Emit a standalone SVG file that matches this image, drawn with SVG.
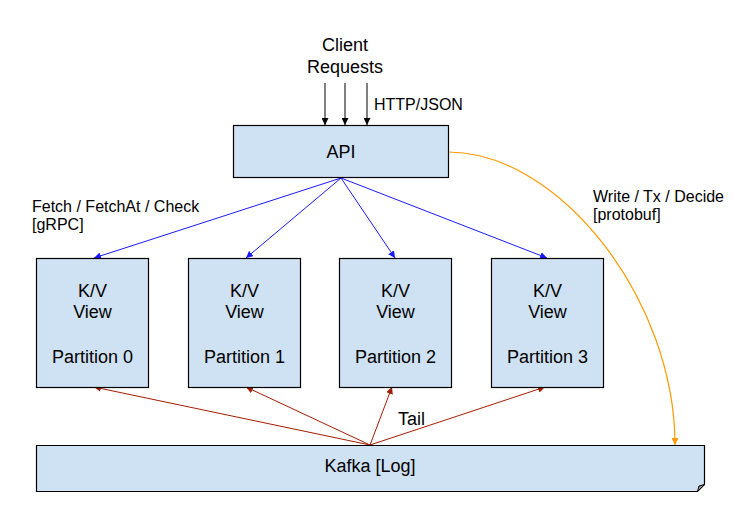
<svg xmlns="http://www.w3.org/2000/svg" width="734" height="512" viewBox="0 0 734 512">
<style>
.box{fill:#cfe2f3;stroke:#000;stroke-width:1.2}
text{font-family:"Liberation Sans",Arial,sans-serif;fill:#000}
.t18{font-size:18px}
.t16{font-size:16px}
.c{text-anchor:middle}
.blk{stroke:#000;stroke-width:1;fill:none}
.blu{stroke:#1a1aff;stroke-width:1;fill:none}
.red{stroke:#a61c00;stroke-width:1;fill:none}
.org{stroke:#ff9900;stroke-width:1.2;fill:none}
</style>
<defs>
<marker id="ab" viewBox="0 0 10 10" refX="10" refY="5" markerWidth="7" markerHeight="7" markerUnits="userSpaceOnUse" orient="auto"><path d="M0,0 L10,5 L0,10 z" fill="#000"/></marker>
<marker id="au" viewBox="0 0 10 10" refX="10" refY="5" markerWidth="7" markerHeight="7" markerUnits="userSpaceOnUse" orient="auto"><path d="M0,0 L10,5 L0,10 z" fill="#1a1aff"/></marker>
<marker id="ar" viewBox="0 0 10 10" refX="10" refY="5" markerWidth="7" markerHeight="7" markerUnits="userSpaceOnUse" orient="auto"><path d="M0,0 L10,5 L0,10 z" fill="#a61c00"/></marker>
<marker id="ao" viewBox="0 0 10 10" refX="10" refY="5" markerWidth="7" markerHeight="7" markerUnits="userSpaceOnUse" orient="auto"><path d="M0,0 L10,5 L0,10 z" fill="#ff9900"/></marker>
</defs>
<g id="connectors">
<line class="blk" x1="325" y1="83" x2="325" y2="125" marker-end="url(#ab)"/>
<line class="blk" x1="345" y1="83" x2="345" y2="125" marker-end="url(#ab)"/>
<line class="blk" x1="367" y1="83" x2="367" y2="125" marker-end="url(#ab)"/>
<line class="blu" x1="341" y1="178" x2="94" y2="258" marker-end="url(#au)"/>
<line class="blu" x1="341" y1="178" x2="246" y2="258" marker-end="url(#au)"/>
<line class="blu" x1="341" y1="178" x2="395" y2="258" marker-end="url(#au)"/>
<line class="blu" x1="341" y1="178" x2="547" y2="258" marker-end="url(#au)"/>
<line class="red" x1="370" y1="445" x2="94" y2="387" marker-end="url(#ar)"/>
<line class="red" x1="370" y1="445" x2="246" y2="387" marker-end="url(#ar)"/>
<line class="red" x1="370" y1="445" x2="392" y2="387" marker-end="url(#ar)"/>
<line class="red" x1="370" y1="445" x2="545" y2="387" marker-end="url(#ar)"/>
<path class="org" d="M448,152 C560,152 675,300 675,445" marker-end="url(#ao)"/>
<text class="t16" x="374" y="110">HTTP/JSON</text>
<text class="t16" x="32" y="212">Fetch / FetchAt / Check</text>
<text class="t16" x="32" y="230">[gRPC]</text>
<text class="t16" x="593" y="202">Write / Tx / Decide</text>
<text class="t16" x="593" y="220">[protobuf]</text>
<text class="t18" x="398" y="425">Tail</text>
</g>
<g id="client">
<text class="t18 c" x="345" y="51">Client</text>
<text class="t18 c" x="345" y="73">Requests</text>
</g>
<g id="api">
<rect class="box" x="233.5" y="125.5" width="215" height="52"/>
<text class="t18 c" x="341" y="158">API</text>
</g>
<g id="p0">
<rect class="box" x="36.5" y="258.5" width="112" height="129"/>
<text class="t18 c" x="92.5" y="297">K/V</text>
<text class="t18 c" x="92.5" y="318">View</text>
<text class="t18 c" x="92.5" y="363">Partition 0</text>
</g>
<g id="p1">
<rect class="box" x="188.5" y="258.5" width="112" height="129"/>
<text class="t18 c" x="244.5" y="297">K/V</text>
<text class="t18 c" x="244.5" y="318">View</text>
<text class="t18 c" x="244.5" y="363">Partition 1</text>
</g>
<g id="p2">
<rect class="box" x="339.5" y="258.5" width="112" height="129"/>
<text class="t18 c" x="395.5" y="297">K/V</text>
<text class="t18 c" x="395.5" y="318">View</text>
<text class="t18 c" x="395.5" y="363">Partition 2</text>
</g>
<g id="p3">
<rect class="box" x="491.5" y="258.5" width="112" height="129"/>
<text class="t18 c" x="547.5" y="297">K/V</text>
<text class="t18 c" x="547.5" y="318">View</text>
<text class="t18 c" x="547.5" y="363">Partition 3</text>
</g>
<g id="kafka">
<path class="box" d="M36.5,445.5 H704.5 V484.5 L697.5,491.5 H36.5 Z"/>
<path d="M697.5,491.5 L699,486 L704.5,484.5 Z" fill="#999" stroke="#000" stroke-width="1"/>
<text class="t18 c" x="370" y="472">Kafka [Log]</text>
</g>
</svg>
